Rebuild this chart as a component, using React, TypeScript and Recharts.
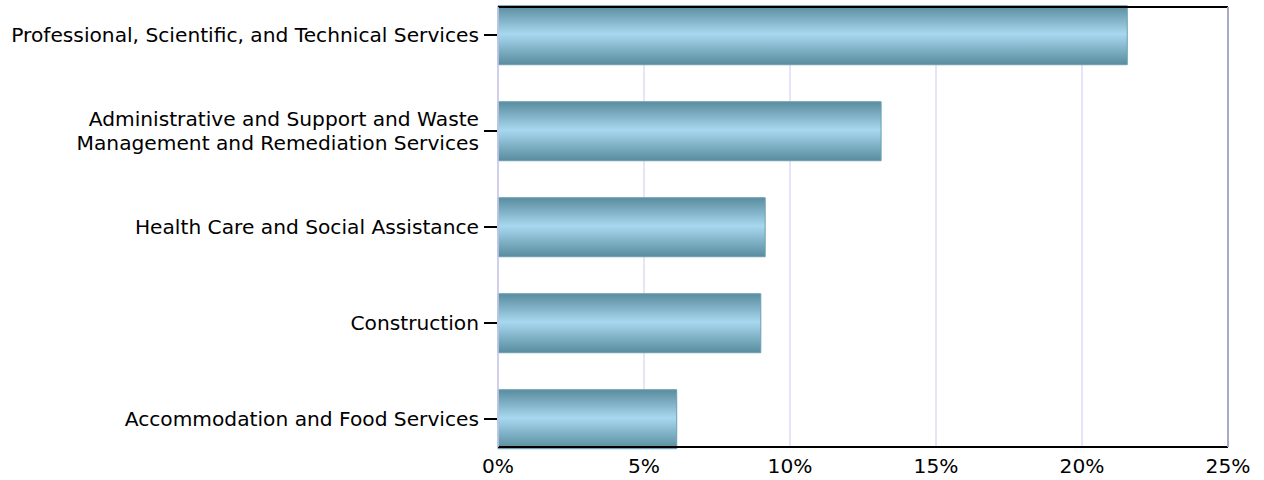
import { BarChart, Bar, XAxis, YAxis, CartesianGrid } from "recharts";

const categories = [
  "Professional, Scientific, and Technical Services",
  "Administrative and Support and Waste Management and Remediation Services",
  "Health Care and Social Assistance",
  "Construction",
  "Accommodation and Food Services",
];
const tickLines = [
  ["Professional, Scientific, and Technical Services"],
  ["Administrative and Support and Waste", "Management and Remediation Services"],
  ["Health Care and Social Assistance"],
  ["Construction"],
  ["Accommodation and Food Services"],
];
const shares = [21.55, 13.12, 9.15, 9.0, 6.12];
const xTicks = [0, 5, 10, 15, 20, 25];

const data = categories.map((c, i) => ({ name: c, value: shares[i] }));
const font = "'DejaVu Sans', Verdana, sans-serif";

function CategoryTick(props: any) {
  const { x, y, payload } = props;
  const idx = categories.indexOf(payload.value);
  const lines = tickLines[idx] ?? [payload.value];
  const lh = 24;
  const start = -((lines.length - 1) * lh) / 2;
  return (
    <g>
      <line x1={x - 6} x2={x + 7} y1={y} y2={y} stroke="#000" strokeWidth={2} />
      <text x={x - 11} y={y} textAnchor="end" fontSize={20.2} fontFamily={font} fill="#000">
        {lines.map((l, i) => (
          <tspan key={i} x={x - 11} y={y + start + i * lh} dy="0.36em">{l}</tspan>
        ))}
      </text>
    </g>
  );
}

export default function App() {
  return (
    <div style={{ position: "absolute", left: 0, top: 0, width: 1264, height: 480, background: "#fff" }}>
      <BarChart
        width={1264}
        height={480}
        data={data}
        layout="vertical"
        margin={{ top: 6, right: 35, bottom: 0, left: 0 }}
        barCategoryGap="19.5%"
      >
        <defs>
          <linearGradient id="barFill" x1="0" y1="0" x2="0" y2="1">
            <stop offset="0%" stopColor="#5a8c9f" />
            <stop offset="48%" stopColor="#a7d8ef" />
            <stop offset="100%" stopColor="#5a8c9f" />
          </linearGradient>
        </defs>
        <CartesianGrid horizontal={false} stroke="#dcdcf5" strokeWidth={1.5} />
        <XAxis
          type="number"
          domain={[0, 25]}
          ticks={xTicks}
          tickFormatter={(v) => `${v}%`}
          axisLine={{ stroke: "#000", strokeWidth: 2 }}
          tickLine={false}
          tick={{ fontSize: 20.2, fontFamily: font, fill: "#000", dy: 4 }}
          height={33}
        />
        <XAxis
          xAxisId="top"
          orientation="top"
          type="number"
          domain={[0, 25]}
          allowDataOverflow
          axisLine={{ stroke: "#000", strokeWidth: 2 }}
          tickLine={false}
          tick={false}
          height={1}
        />
        <YAxis
          type="category"
          dataKey="name"
          width={498}
          axisLine={{ stroke: "#c8c8ea", strokeWidth: 1.5 }}
          tickLine={false}
          tick={<CategoryTick />}
          padding={{ top: -20, bottom: -20 }}
          interval={0}
        />
        <YAxis
          yAxisId="right"
          orientation="right"
          type="category"
          dataKey="name"
          width={1}
          axisLine={{ stroke: "#a8a8c8", strokeWidth: 2 }}
          tickLine={false}
          tick={false}
        />
        <Bar
          dataKey="value"
          fill="url(#barFill)"
          stroke="#6a9fb3"
          strokeWidth={1}
          isAnimationActive={false}
        />
      </BarChart>
    </div>
  );
}
